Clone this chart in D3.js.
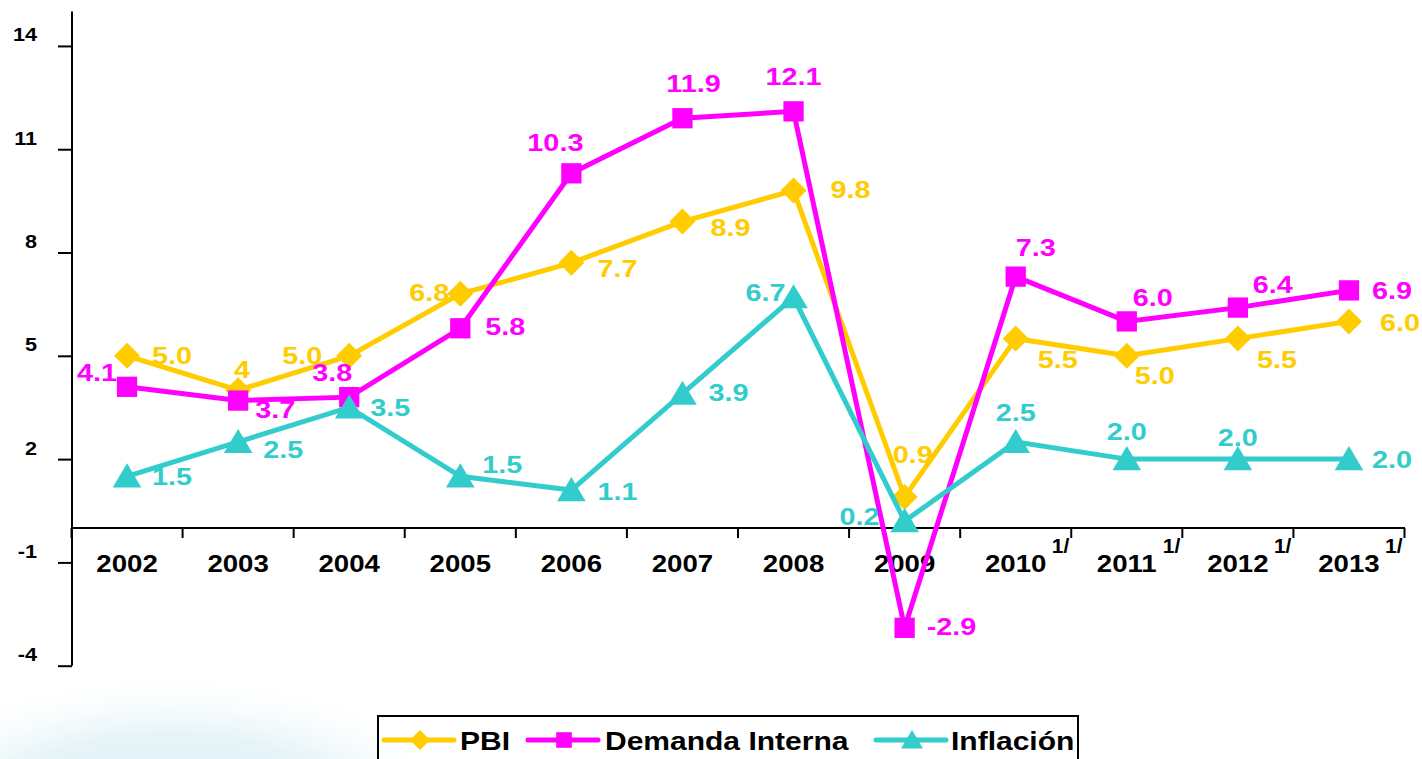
<html>
<head>
<script src="https://d3js.org/d3.v7.min.js"></script>
<style>
body { margin: 0; background: #fff; }
text { font-family: "Liberation Sans", Arial, sans-serif; font-weight: bold; }
</style>
</head>
<body>
<script>
// data
let years = ["2002", "2003", "2004", "2005", "2006", "2007", "2008", "2009", "2010", "2011", "2012", "2013"];
let projected = ["2010", "2011", "2012", "2013"];
let pbi = [5.0, 4.0, 5.0, 6.8, 7.7, 8.9, 9.8, 0.9, 5.5, 5.0, 5.5, 6.0];
let pbiText = ["5.0", "4", "5.0", "6.8", "7.7", "8.9", "9.8", "0.9", "5.5", "5.0", "5.5", "6.0"];
let demanda = [4.1, 3.7, 3.8, 5.8, 10.3, 11.9, 12.1, -2.9, 7.3, 6.0, 6.4, 6.9];
let inflacion = [1.5, 2.5, 3.5, 1.5, 1.1, 3.9, 6.7, 0.2, 2.5, 2.0, 2.0, 2.0];
let yTicks = [-4, -1, 2, 5, 8, 11, 14];

// where each value label sits, relative to its point: [dx, dy, anchor]
let pbiPos = [[25,0,"start"],[4,-21,"middle"],[-27,0,"end"],[-11,-1,"end"],[26,6,"start"],[28,6,"start"],[37,-1,"start"],[-12,-42,"start"],[22,21,"start"],[8,20,"start"],[19,21,"start"],[31,1,"start"]];
let demPos = [[-10,-14,"end"],[17,9,"start"],[-17,-25,"middle"],[25,-2,"start"],[-16,-31,"middle"],[11,-35,"middle"],[0,-35,"middle"],[22,-1,"start"],[20,-29,"middle"],[26,-24,"middle"],[35,-23,"middle"],[23,0,"start"]];
let infPos = [[25,0,"start"],[25,8,"start"],[21,0,"start"],[22,-12,"start"],[26,1,"start"],[26,-1,"start"],[-8,-5,"end"],[-25,-5,"end"],[0,-29,"middle"],[0,-28,"middle"],[0,-22,"middle"],[23,0,"start"]];

let series = [
    {name: "PBI", values: pbi, text: pbiText, pos: pbiPos, color: "#FFCC00", shape: "diamond"},
    {name: "Demanda Interna", values: demanda, text: demanda.map(d => d.toFixed(1)), pos: demPos, color: "#FF00FF", shape: "square"},
    {name: "Inflación", values: inflacion, text: inflacion.map(d => d.toFixed(1)), pos: infPos, color: "#33CCCC", shape: "triangle"}
];

let width = 1422, height = 759;
let svg = d3.select("body").append("svg").attr("width", width).attr("height", height);

// faint watermark in the bottom-left corner
let defs = svg.append("defs");
let grad = defs.append("radialGradient").attr("id", "wm");
grad.append("stop").attr("offset", "0%").attr("stop-color", "#d8eef5");
grad.append("stop").attr("offset", "60%").attr("stop-color", "#e6f4f8");
grad.append("stop").attr("offset", "100%").attr("stop-color", "#ffffff").attr("stop-opacity", 0);
svg.append("ellipse").attr("cx", 170).attr("cy", 830).attr("rx", 330).attr("ry", 160).attr("fill", "url(#wm)");

let x = d3.scaleBand().domain(years).range([71.5, 1404.5]).padding(0);
let cx = d => x(d) + x.bandwidth() / 2;
let y = d3.scaleLinear().domain([-4, 15]).range([665.7, 11.5]);

// stretch text horizontally like the original wide bold font
function stretch(sel, k) {
    sel.each(function() {
        let w = this.getComputedTextLength();
        d3.select(this).attr("textLength", w * k).attr("lengthAdjust", "spacingAndGlyphs");
    });
}

// y axis
let yAxis = svg.append("g").attr("transform", "translate(72,0)")
    .call(d3.axisLeft(y).tickValues(yTicks).tickSize(14).tickPadding(0).tickFormat(d => String(d)));
yAxis.select(".domain").attr("stroke-width", 2).attr("d", "M0," + y(-4) + "V" + y(15));
yAxis.selectAll(".tick line").attr("stroke-width", 2);
yAxis.selectAll(".tick text")
    .attr("x", -35).attr("dy", null).attr("y", -11)
    .attr("dominant-baseline", "central")
    .attr("font-size", 18).attr("font-family", null).attr("fill", "#000")
    .call(stretch, 1.2);

// x axis at zero
let xAxis = svg.append("g").attr("transform", "translate(0," + y(0) + ")");
xAxis.append("line").attr("x1", 72).attr("x2", 1405).attr("stroke", "#000").attr("stroke-width", 2);
xAxis.selectAll(".xt").data(years.concat(["end"])).join("line")
    .attr("class", "xt")
    .attr("x1", d => d === "end" ? 1404.5 : x(d)).attr("x2", d => d === "end" ? 1404.5 : x(d))
    .attr("y1", 0).attr("y2", 10).attr("stroke", "#000").attr("stroke-width", 2);
xAxis.selectAll(".yl").data(years).join("text")
    .attr("class", "yl")
    .attr("x", d => cx(d)).attr("y", 36)
    .attr("text-anchor", "middle").attr("dominant-baseline", "central")
    .attr("font-size", 23).attr("fill", "#000")
    .text(d => d)
    .call(stretch, 1.2);
xAxis.selectAll(".sup").data(projected).join("text")
    .attr("class", "sup")
    .attr("x", d => cx(d) + 36).attr("y", 18)
    .attr("dominant-baseline", "central")
    .attr("font-size", 21).attr("fill", "#000")
    .text("1/");

let line = d3.line().x((d, i) => cx(years[i])).y(d => y(d));

function marker(sel, shape, color, s) {
    if (shape === "diamond") {
        sel.append("path").attr("d", `M0,${-s}L${s},0L0,${s}L${-s},0Z`).attr("fill", color);
    } else if (shape === "square") {
        sel.append("rect").attr("x", -s * 0.78).attr("y", -s * 0.78).attr("width", s * 1.56).attr("height", s * 1.56).attr("fill", color);
    } else {
        sel.append("path").attr("d", `M0,${-s}L${s * 1.1},${s * 0.85}L${-s * 1.1},${s * 0.85}Z`).attr("fill", color);
    }
}

series.forEach(s => {
    let g = svg.append("g");
    g.append("path").datum(s.values)
        .attr("d", line).attr("fill", "none")
        .attr("stroke", s.color).attr("stroke-width", 5).attr("stroke-linejoin", "miter");
    g.selectAll(".m").data(s.values).join("g")
        .attr("class", "m")
        .attr("transform", (d, i) => `translate(${cx(years[i])},${y(d)})`)
        .each(function() { marker(d3.select(this), s.shape, s.color, 13); });
});

series.forEach(s => {
    svg.append("g").selectAll("text").data(s.values).join("text")
        .attr("x", (d, i) => cx(years[i]) + s.pos[i][0])
        .attr("y", (d, i) => y(d) + s.pos[i][1])
        .attr("text-anchor", (d, i) => s.pos[i][2])
        .attr("dominant-baseline", "central")
        .attr("font-size", 24).attr("fill", s.color)
        .text((d, i) => s.text[i])
        .call(stretch, 1.2);
});

// legend
let lg = svg.append("g");
lg.append("rect").attr("x", 378).attr("y", 716).attr("width", 700).attr("height", 70)
    .attr("fill", "#fff").attr("fill-opacity", 0.6).attr("stroke", "#000").attr("stroke-width", 2);
let legX = [384, 528, 876];
let textX = [460, 605, 951];
series.forEach((s, i) => {
    let ly = 740;
    lg.append("line").attr("x1", legX[i]).attr("x2", legX[i] + 70).attr("y1", ly).attr("y2", ly)
        .attr("stroke", s.color).attr("stroke-width", 5).attr("stroke-linecap", "round");
    let mg = lg.append("g").attr("transform", `translate(${legX[i] + 36},${ly})`);
    marker(mg, s.shape, s.color, 10);
    lg.append("text").attr("x", textX[i]).attr("y", ly + 1)
        .attr("dominant-baseline", "central")
        .attr("font-size", 25).attr("fill", "#000")
        .text(s.name)
        .call(stretch, 1.2);
});
</script>
</body>
</html>
